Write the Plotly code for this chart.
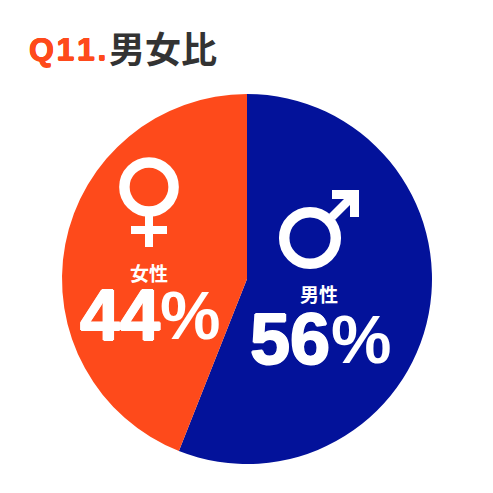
import plotly.graph_objects as go

# Data
labels = ['男性', '女性']
values = [56, 44]
colors = ['#03129A', '#FE4A1B']

SIZE = 493


def px(x):
    return x / SIZE


def py(y):
    return 1 - y / SIZE


def thick(color, d=1):
    # fake a heavier face, the fonts here stop at bold
    return f'{d}px 0 {color}, -{d}px 0 {color}, 0 {d}px {color}, 0 -{d}px {color}'


def add_text(fig, x, y, text, size, color, family, shadow='none'):
    # x, y are the text centre in window pixels
    fig.add_annotation(
        x=px(x), y=py(y), xref='paper', yref='paper',
        text=text, showarrow=False,
        xanchor='center', yanchor='middle',
        font=dict(size=size, color=color, family=family, weight='bold', shadow=shadow),
    )


def add_ring(fig, cx, cy, r, width):
    fig.add_shape(
        type='circle', xref='paper', yref='paper',
        x0=px(cx - r), x1=px(cx + r), y0=py(cy - r), y1=py(cy + r),
        line=dict(color='white', width=width),
    )


def add_bar(fig, x0, y0, x1, y1):
    fig.add_shape(
        type='rect', xref='paper', yref='paper',
        x0=px(x0), x1=px(x1), y0=py(y0), y1=py(y1),
        fillcolor='white', line_width=0,
    )


def add_poly(fig, pts):
    path = 'M ' + ' L '.join(f'{px(x):.5f} {py(y):.5f}' for x, y in pts) + ' Z'
    fig.add_shape(type='path', xref='paper', yref='paper', path=path,
                  fillcolor='white', line_width=0)


fig = go.Figure()
fig.add_trace(go.Pie(
    labels=labels,
    values=values,
    marker=dict(colors=colors, line=dict(width=0)),
    sort=False,
    direction='clockwise',
    rotation=0,
    textinfo='none',
    hoverinfo='label+percent',
    domain=dict(x=[px(62), px(432)], y=[py(464), py(94)]),
))

# Female icon
add_ring(fig, 149, 187, 24.6, 10.5)
add_bar(fig, 145, 214, 153, 247)
add_bar(fig, 131, 226, 167, 234)

# Male icon
add_ring(fig, 310, 238, 25.8, 10.5)
add_poly(fig, [(332, 190), (359, 190), (359, 217), (350, 217), (350, 205),
               (335, 220), (329, 214), (344, 199), (332, 199)])

# Slice labels, digits and % apart so the % keeps its lighter look
add_text(fig, 319, 293, labels[0], 19, 'white', 'Noto Sans CJK JP')
add_text(fig, 290, 339, str(values[0]), 72, 'white', 'Liberation Sans', thick('white', 1))
add_text(fig, 361, 339, '%', 68, 'white', 'Liberation Sans')
add_text(fig, 149, 272, labels[1], 19, 'white', 'Noto Sans CJK JP')
add_text(fig, 120, 315, str(values[1]), 72, 'white', 'Liberation Sans', thick('white', 1))
add_text(fig, 190, 315, '%', 68, 'white', 'Liberation Sans')

# Title
add_text(fig, 67, 49, 'Q\u200a1\u200a1\u200a.', 32, '#FE4A1B', 'Liberation Sans', thick('#FE4A1B', 0.5))
add_text(fig, 163, 47, '男女比', 36, '#333333', 'Noto Sans CJK JP')

fig.update_layout(
    width=SIZE, height=SIZE,
    margin=dict(l=0, r=0, t=0, b=0),
    paper_bgcolor='white',
    showlegend=False,
)
fig.write_html("out.html", config=dict(displayModeBar=False),
               post_script="document.body.style.margin='0';")
